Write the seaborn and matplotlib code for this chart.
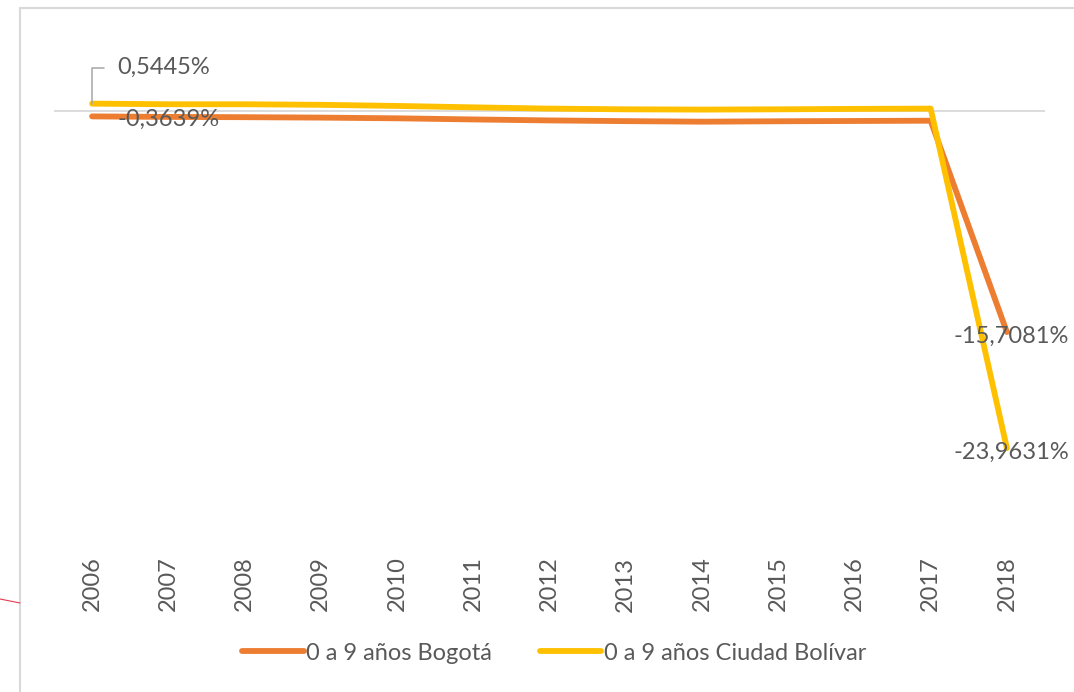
import pandas as pd
import matplotlib.pyplot as plt
import seaborn as sns
from matplotlib.lines import Line2D

# datos: variación porcentual población 0 a 9 años
anios = list(range(2006, 2019))
bogota = [-0.3639, -0.40, -0.42, -0.45, -0.50, -0.58, -0.65, -0.70, -0.74, -0.71, -0.69, -0.67, -15.7081]
ciudad_bolivar = [0.5445, 0.50, 0.50, 0.46, 0.38, 0.28, 0.19, 0.14, 0.12, 0.14, 0.17, 0.19, -23.9631]
series = ['0 a 9 años Bogotá', '0 a 9 años Ciudad Bolívar']
colores = ['#ED7D31', '#FFC000']

df = pd.DataFrame({'anio': anios * 2,
                   'valor': bogota + ciudad_bolivar,
                   'serie': [series[0]] * len(anios) + [series[1]] * len(anios)})

sns.set_theme(style='white')
plt.rcParams['font.family'] = ['Lato', 'DejaVu Sans']
gris = '#595959'

fig = plt.figure(figsize=(10.74, 6.92), dpi=100)
ax = fig.add_axes([54 / 1074, 1 - 533 / 692, (1045 - 54) / 1074, (533 - 41) / 692])

ax.axhline(0, color='#D9D9D9', lw=1.3, zorder=1)
sns.lineplot(data=df, x='anio', y='valor', hue='serie', palette=colores,
             linewidth=4.2, legend=False, ax=ax, solid_capstyle='round',
             solid_joinstyle='round', zorder=3)

ax.set_xlim(anios[0] - 0.5, anios[-1] + 0.5)
ax.set_ylim(-30, 5)
ax.set_xticks(anios)
ax.set_xticklabels([str(a) for a in anios], rotation=90, fontsize=17, color=gris)
ax.tick_params(axis='x', length=0, pad=17)
ax.set_yticks([])
ax.set_xlabel('')
ax.set_ylabel('')
for s in ax.spines.values():
    s.set_visible(False)

# etiquetas de datos
def fmt(v):
    return '{:.4f}%'.format(v).replace('.', ',')

ax.annotate(fmt(ciudad_bolivar[0]), xy=(anios[0], ciudad_bolivar[0]), xytext=(18, 26),
            textcoords='offset points', ha='left', va='center', fontsize=17, color=gris,
            arrowprops=dict(arrowstyle='-', color='#A6A6A6', lw=1.1, shrinkA=7, shrinkB=0,
                            relpos=(0, 0.5),
                            connectionstyle='angle,angleA=0,angleB=90,rad=0'))
ax.annotate(fmt(bogota[0]), xy=(anios[0], bogota[0]), xytext=(18, -2),
            textcoords='offset points', ha='left', va='center', fontsize=17, color=gris,
            zorder=5)
ax.annotate(fmt(bogota[-1]), xy=(anios[-1], bogota[-1]), xytext=(3, -3),
            textcoords='offset points', ha='center', va='center', fontsize=17, color=gris,
            zorder=5)
ax.annotate(fmt(ciudad_bolivar[-1]), xy=(anios[-1], ciudad_bolivar[-1]), xytext=(3, -3),
            textcoords='offset points', ha='center', va='center', fontsize=17, color=gris,
            zorder=5)

# leyenda
handles = [Line2D([0], [0], color=c, lw=4.2, solid_capstyle='round') for c in colores]
fig.legend(handles, series, loc='center', bbox_to_anchor=(0.516, 1 - 653 / 692), ncol=2,
           frameon=False, fontsize=17, labelcolor=gris, handlelength=2.6,
           handletextpad=0.12, columnspacing=2.0)

# borde del área del gráfico
fig.add_artist(Line2D([20 / 1074, 1], [1 - 8 / 692, 1 - 8 / 692], color='#D9D9D9', lw=1.5))
fig.add_artist(Line2D([20 / 1074, 20 / 1074], [0, 1 - 8 / 692], color='#D9D9D9', lw=1.5))
fig.add_artist(Line2D([0, 20 / 1074], [1 - 599 / 692, 1 - 603 / 692], color='#E8394F', lw=0.8))

plt.savefig('out.png', dpi=100)
